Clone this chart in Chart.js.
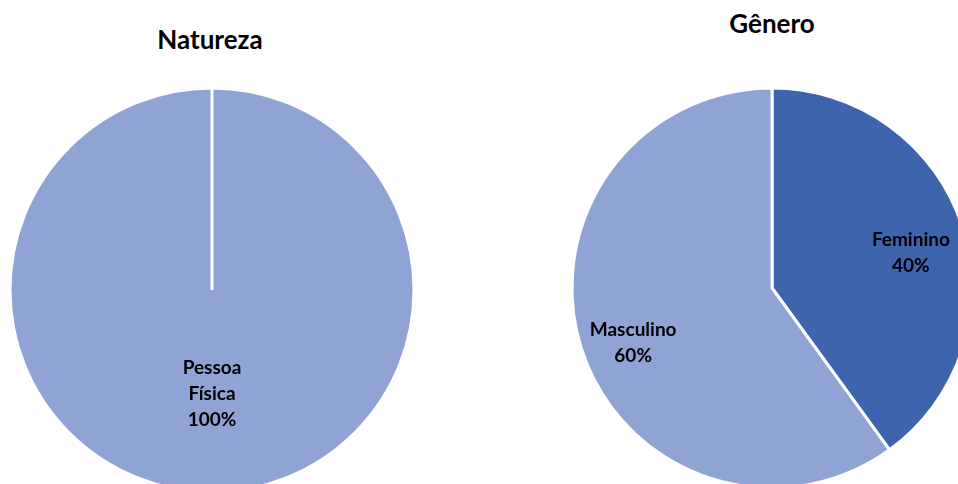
<!DOCTYPE html>
<html>
<head>
<meta charset="utf-8">
<script src="https://cdn.jsdelivr.net/npm/chart.js@4/dist/chart.umd.min.js"></script>
<style>
  html, body { margin: 0; padding: 0; background: #fff; }
  body { width: 958px; height: 484px; overflow: hidden; position: relative; font-family: Lato, sans-serif; }
  .title { position: absolute; width: 300px; text-align: center; font-weight: bold; font-size: 26px; line-height: 26px; color: #000; }
  .box { position: absolute; width: 440px; height: 440px; }
</style>
</head>
<body>
<div class="title" style="left:60px; top:26px;">Natureza</div>
<div class="title" style="left:622px; top:10px;">Gênero</div>
<div class="box" style="left:-8px; top:70px;"><canvas id="natureza"></canvas></div>
<div class="box" style="left:552px; top:68px;"><canvas id="genero"></canvas></div>
<script>
// Natureza
const naturezaLabels = ['Pessoa Física'];
const naturezaValues = [100];

// Gênero
const generoLabels = ['Feminino', 'Masculino'];
const generoValues = [40, 60];

const lightBlue = '#8FA3D4';
const darkBlue = '#3D64AD';

// draws "name / percent" inside each slice, like the Excel data labels
const sliceLabels = {
  id: 'sliceLabels',
  afterDatasetsDraw(chart, args, opts) {
    const ctx = chart.ctx;
    const ds = chart.data.datasets[0];
    const total = ds.data.reduce((a, b) => a + b, 0);
    chart.getDatasetMeta(0).data.forEach((arc, i) => {
      const mid = (arc.startAngle + arc.endAngle) / 2;
      const r = arc.outerRadius * opts.factor;
      const x = arc.x + Math.cos(mid) * r;
      const y = arc.y + Math.sin(mid) * r + opts.dy;
      const lines = chart.data.labels[i].split(' ');
      lines.push(Math.round(ds.data[i] / total * 100) + '%');
      ctx.save();
      ctx.font = 'bold 19px Lato';
      ctx.fillStyle = '#000';
      ctx.textAlign = 'center';
      ctx.textBaseline = 'middle';
      const lh = 26;
      lines.forEach((t, k) => {
        ctx.fillText(t, x, y + (k - (lines.length - 1) / 2) * lh);
      });
      ctx.restore();
    });
  }
};

function makePie(id, labels, values, colors, radius, factor, dy) {
  new Chart(document.getElementById(id), {
    type: 'pie',
    data: {
      labels: labels,
      datasets: [{
        data: values,
        backgroundColor: colors,
        borderColor: '#fff',
        borderWidth: 3
      }]
    },
    options: {
      responsive: true,
      maintainAspectRatio: false,
      animation: false,
      radius: radius,
      layout: { padding: 0 },
      plugins: {
        legend: { display: false },
        tooltip: { enabled: false },
        sliceLabels: { factor: factor, dy: dy }
      }
    },
    plugins: [sliceLabels]
  });
}

makePie('natureza', naturezaLabels, naturezaValues, [lightBlue], 202, 0.5, 3);
makePie('genero', generoLabels, generoValues, [darkBlue, lightBlue], 200, 0.73, 10);
</script>
</body>
</html>
